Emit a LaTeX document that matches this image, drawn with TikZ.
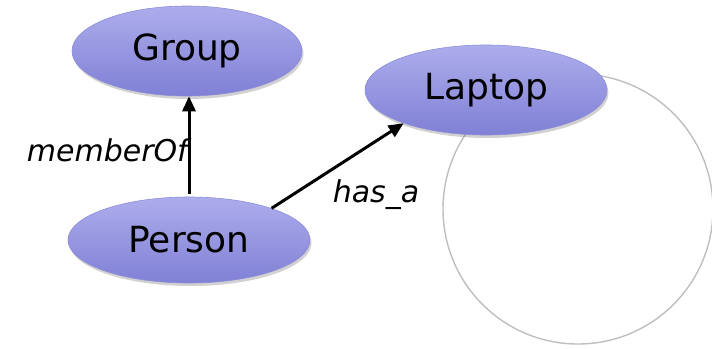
\documentclass[tikz,border=0pt]{standalone}
\usepackage{fontspec}
\setmainfont{DejaVu Sans}
\usetikzlibrary{shapes.geometric,shadows,arrows.meta}
\definecolor{ovtop}{HTML}{ADADEC}
\definecolor{ovbot}{HTML}{8080D6}
\definecolor{ovedge}{HTML}{8C8CD8}
\definecolor{ringgray}{HTML}{BEBEBE}
\tikzset{
  concept/.style={ellipse, inner sep=0pt, top color=ovtop, bottom color=ovbot,
    draw=ovedge, line width=0.6pt,
    drop shadow={shadow xshift=1.5pt, shadow yshift=-3pt, opacity=0.3, fill=black!60},
    font=\fontsize{36}{40}\selectfont, text=black},
  relation/.style={-{Triangle[length=15pt,width=13pt]}, line width=3pt, black},
  rellabel/.style={font=\fontsize{30}{36}\selectfont\itshape, inner sep=0pt},
}
\begin{document}
\begin{tikzpicture}[x=1pt,y=-1pt]
  \useasboundingbox (0,0) rectangle (712,348);
  % outline circle behind the laptop
  \draw[ringgray, line width=1.4pt] (578,209) circle[radius=135pt];
  % concepts
  \node[concept, minimum width=230pt, minimum height=90pt] (group) at (187,51) {Group};
  \node[concept, minimum width=242pt, minimum height=90pt] (laptop) at (486,90) {Laptop};
  \node[concept, minimum width=242pt, minimum height=86pt] (person) at (189,240) {Person};
  % relations
  \draw[relation] ([yshift=3pt]person.north) -- (person.north |- group.south);
  \draw[relation] (person.21) -- (laptop.202);
  % relation labels
  \node[rellabel, anchor=east] (memberof) at (188,150) {memberOf};
  \node[rellabel] (hasa) at (376,195) {has\_a};
\end{tikzpicture}
\end{document}
